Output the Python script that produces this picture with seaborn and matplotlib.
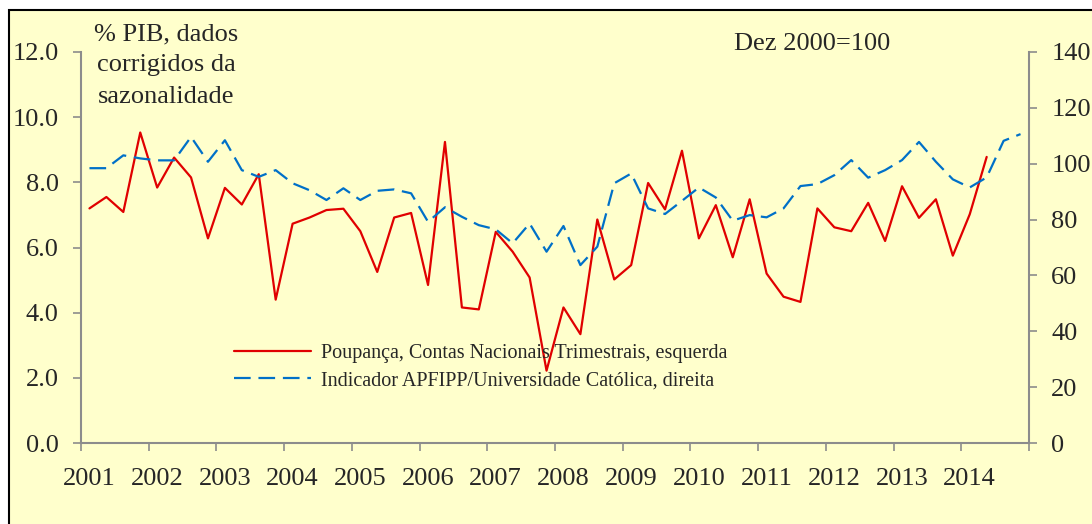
import numpy as np
import pandas as pd
import matplotlib
matplotlib.use("Agg")
import matplotlib.pyplot as plt
from matplotlib.patches import Rectangle
import seaborn as sns

# quarterly series, 2001Q1 onwards
YEARS = list(range(2001, 2015))

# Poupança, % PIB (left axis), 2001Q1 - 2014Q2
poupanca = [7.2, 7.55, 7.09, 9.53, 7.84, 8.76, 8.15, 6.28, 7.83, 7.32,
            8.25, 4.4, 6.73, 6.92, 7.15, 7.19, 6.5, 5.25, 6.92, 7.06,
            4.85, 9.24, 4.16, 4.1, 6.48, 5.87, 5.08, 2.22, 4.16, 3.34,
            6.86, 5.02, 5.46, 7.98, 7.17, 8.97, 6.28, 7.3, 5.7, 7.48,
            5.2, 4.49, 4.33, 7.2, 6.62, 6.5, 7.37, 6.2, 7.88, 6.91,
            7.48, 5.75, 7.02, 8.78]

# Indicador APFIPP/UCP, Dez 2000=100 (right axis), 2001Q1 - 2014Q4
indicador = [98.4, 98.4, 103.0, 101.9, 101.2, 101.2, 109.6, 100.7, 108.4, 97.7,
             95.3, 97.7, 93.0, 90.5, 87.0, 91.2, 87.0, 90.3, 90.8, 89.4,
             79.2, 84.4, 81.0, 78.0, 76.5, 71.5, 78.6, 68.5, 77.7, 63.7,
             70.3, 93.0, 96.5, 84.0, 82.0, 86.7, 91.5, 87.9, 79.6, 81.6,
             80.8, 84.0, 92.0, 92.7, 95.9, 101.3, 95.0, 97.7, 101.3, 107.8,
             100.7, 94.4, 91.5, 95.1, 108.2, 110.6]

left_ticks = [0, 2, 4, 6, 8, 10, 12]
right_ticks = [0, 20, 40, 60, 80, 100, 120, 140]

lbl_red = "Poupança, Contas Nacionais Trimestrais, esquerda"
lbl_blue = "Indicador APFIPP/Universidade Católica, direita"

df_red = pd.DataFrame({"q": np.arange(len(poupanca)), "v": poupanca})
df_blue = pd.DataFrame({"q": np.arange(len(indicador)), "v": indicador})

sns.set_style("white")
plt.rcParams["font.family"] = ["Liberation Serif", "DejaVu Serif"]

BG = "#FFFFCC"
AX_COL = "#8C8C8C"
RED = "#E00000"
BLUE = "#0070C8"
FS = 19

fig = plt.figure(figsize=(10.92, 5.24), dpi=100, facecolor="white")
# yellow panel with black frame (left/top visible)
fig.patches.append(Rectangle((9 / 1092, -0.1), 1.2, (524 - 10) / 524 + 0.1,
                             transform=fig.transFigure, facecolor=BG,
                             edgecolor="black", linewidth=1.5, zorder=-10))

ax = fig.add_axes([81 / 1092, (524 - 443) / 524, (1029 - 81) / 1092, (443 - 52) / 524])
ax.set_facecolor("none")
ax2 = ax.twinx()
ax2.set_facecolor("none")

sns.lineplot(data=df_red, x="q", y="v", ax=ax, color=RED, linewidth=1.6, label=lbl_red, legend=False)
sns.lineplot(data=df_blue, x="q", y="v", ax=ax2, color=BLUE, linewidth=1.6, label=lbl_blue, legend=False)
ax2.lines[0].set_dashes((7.5, 3.5))

n_q = len(YEARS) * 4
ax.set_xlim(-0.5, n_q - 0.5)
ax.set_ylim(0, 12)
ax2.set_ylim(0, 140)

for a in (ax, ax2):
    for s in a.spines.values():
        s.set_visible(False)
    a.set_xlabel("")
    a.set_ylabel("")

ax.spines["left"].set_visible(True)
ax.spines["bottom"].set_visible(True)
ax2.spines["right"].set_visible(True)
for s in (ax.spines["left"], ax.spines["bottom"], ax2.spines["right"]):
    s.set_color(AX_COL)
    s.set_linewidth(1.5)

ax.set_yticks(left_ticks)
ax.set_yticklabels([f"{t:.1f}" for t in left_ticks])
ax2.set_yticks(right_ticks)
ax2.set_yticklabels([str(t) for t in right_ticks])

# year boundaries carry the tick marks, labels sit under the first quarter
ax.set_xticks(np.arange(-0.5, n_q, 4))
ax.set_xticklabels([])
ax.set_xticks(np.arange(0, n_q, 4), minor=True)
ax.set_xticklabels([str(y) for y in YEARS], minor=True)

ax.tick_params(axis="x", which="major", direction="out", length=6, width=1.2,
               color=AX_COL, bottom=True)
ax.tick_params(axis="x", which="minor", length=0, pad=18, labelsize=FS)
ax.tick_params(axis="y", direction="out", length=6, width=1.2, color=AX_COL,
               pad=10, labelsize=FS, left=True)
ax2.tick_params(axis="y", direction="out", length=6, width=1.2, color=AX_COL,
                pad=10, labelsize=FS, right=True)

fig.text(166 / 1092, 1 - 23 / 524, "% PIB, dados\ncorrigidos da\nsazonalidade",
         ha="center", va="top", multialignment="center", fontsize=FS, linespacing=1.55)
fig.text(812 / 1092, 1 - 44 / 524, "Dez 2000=100", ha="center", va="center", fontsize=FS)

h1, _ = ax.get_legend_handles_labels()
h2, _ = ax2.get_legend_handles_labels()
ax.legend(h1 + h2, [lbl_red, lbl_blue], loc="upper left",
          bbox_to_anchor=((226 - 81) / 948, (443 - 336) / 391),
          frameon=False, fontsize=14.5, handlelength=3.8, handletextpad=0.5,
          labelspacing=0.4, borderaxespad=0)

fig.savefig("out.png", dpi=100, facecolor="white")
